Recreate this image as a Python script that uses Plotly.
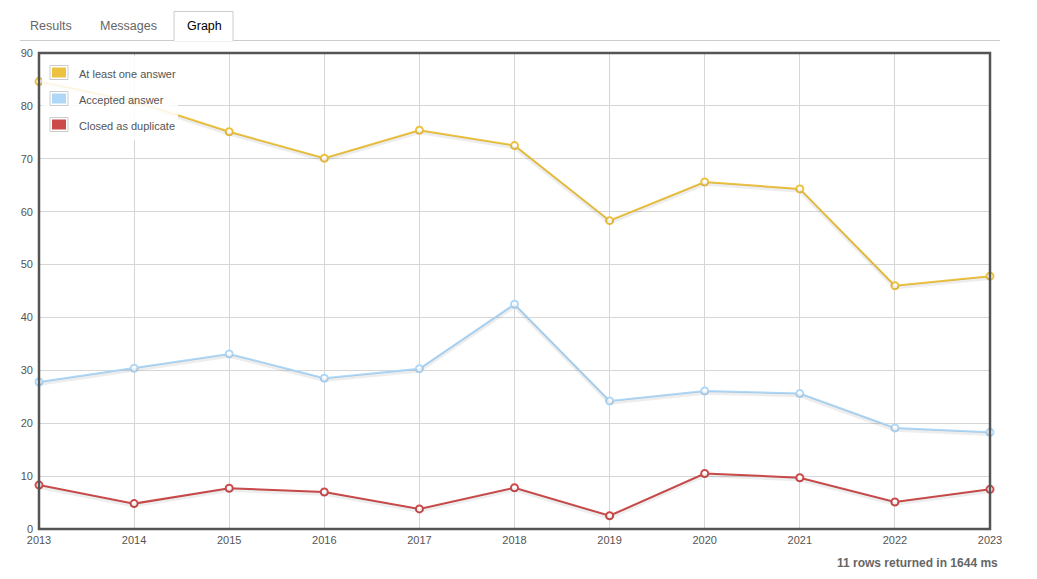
import plotly.graph_objects as go

years = [2013, 2014, 2015, 2016, 2017, 2018, 2019, 2020, 2021, 2022, 2023]
at_least_one = [84.6, 80.9, 75.1, 70.1, 75.4, 72.5, 58.3, 65.6, 64.3, 46.0, 47.8]
accepted = [27.8, 30.4, 33.1, 28.5, 30.3, 42.5, 24.2, 26.1, 25.6, 19.1, 18.3]
closed_dup = [8.3, 4.8, 7.7, 7.0, 3.8, 7.8, 2.5, 10.5, 9.7, 5.1, 7.5]

series_names = ["At least one answer", "Accepted answer", "Closed as duplicate"]
series_values = [at_least_one, accepted, closed_dup]
colors = ["#edc240", "#afd8f8", "#cb4b4b"]

y_ticks = list(range(0, 91, 10))
tabs = ["Results", "Messages", "Graph"]
footer = "11 rows returned in 1644 ms"

W, H = 1037, 579
L, R, T, B = 39, 990, 53, 529
pw, ph = R - L, B - T

def px(x):
    return (x - L) / pw

def py(y):
    return (B - y) / ph

fig = go.Figure()

# shadows on an overlaid axis, shifted down ~2px
shift = 90 / ph * 2.0
for name, vals in zip(series_names, series_values):
    fig.add_trace(go.Scatter(x=years, y=vals, mode="lines", yaxis="y2",
                             line=dict(color="rgba(0,0,0,0.07)", width=3.5),
                             hoverinfo="skip", showlegend=False))

for name, vals, c in zip(series_names, series_values, colors):
    fig.add_trace(go.Scatter(x=years, y=vals, mode="lines+markers", name=name,
                             line=dict(color=c, width=2),
                             marker=dict(size=7, color="white", line=dict(color=c, width=2)),
                             showlegend=False, cliponaxis=False))

shapes = []
annotations = []

# legend (drawn manually, flot style)
shapes.append(dict(type="rect", xref="paper", yref="paper", x0=px(42), x1=px(178),
                   y0=py(140), y1=py(56), fillcolor="rgba(255,255,255,0.85)",
                   line=dict(width=0), layer="above"))
for i, (name, c) in enumerate(zip(series_names, colors)):
    cy = 72.5 + i * 26
    shapes.append(dict(type="rect", xref="paper", yref="paper", x0=px(50), x1=px(68),
                       y0=py(cy + 7), y1=py(cy - 7), fillcolor="white",
                       line=dict(color="#cccccc", width=1), layer="above"))
    shapes.append(dict(type="rect", xref="paper", yref="paper", x0=px(52), x1=px(66),
                       y0=py(cy + 5), y1=py(cy - 5), fillcolor=c,
                       line=dict(width=0), layer="above"))
    annotations.append(dict(text=name, xref="paper", yref="paper", x=px(77), y=py(cy + 1.5),
                            xanchor="left", yanchor="middle", showarrow=False,
                            font=dict(family="Liberation Sans, Arial", size=11, color="#545454")))

# plot border
shapes.append(dict(type="rect", xref="paper", yref="paper", x0=0, x1=1, y0=0, y1=1,
                   line=dict(color="#545454", width=2.5), layer="above"))

# tabs
shapes.append(dict(type="line", xref="paper", yref="paper", x0=px(20), x1=px(1000),
                   y0=py(40.5), y1=py(40.5), line=dict(color="#cccccc", width=1)))
shapes.append(dict(type="rect", xref="paper", yref="paper", x0=px(174), x1=px(233),
                   y0=py(41), y1=py(11.5), fillcolor="white",
                   line=dict(color="#cccccc", width=1)))
shapes.append(dict(type="line", xref="paper", yref="paper", x0=px(174.5), x1=px(232.5),
                   y0=py(40.5), y1=py(40.5), line=dict(color="white", width=2)))
tab_x = [51, 128, 204]
tab_colors = ["#666666", "#666666", "#000000"]
for t, xc, tc in zip(tabs, tab_x, tab_colors):
    annotations.append(dict(text=t, xref="paper", yref="paper", x=px(xc), y=py(26),
                            xanchor="center", yanchor="middle", showarrow=False,
                            font=dict(family="Liberation Sans, Arial", size=12.5, color=tc)))

annotations.append(dict(text=f"<b>{footer}</b>", xref="paper", yref="paper", x=px(1000), y=py(563),
                        xanchor="right", yanchor="middle", showarrow=False,
                        font=dict(family="Liberation Sans, Arial", size=12, color="#666666")))

axis_font = dict(family="Liberation Sans, Arial", size=11, color="#545454")
fig.update_layout(
    width=W, height=H,
    margin=dict(l=L, r=W - R, t=T, b=H - B),
    paper_bgcolor="white", plot_bgcolor="white",
    xaxis=dict(range=[2013, 2023], tickvals=years, ticktext=[str(y) for y in years],
               showgrid=True, gridcolor="#d6d6d6", gridwidth=1, zeroline=False,
               tickfont=axis_font, ticks="", ticklabelstandoff=3, showline=False),
    yaxis=dict(range=[0, 90], tickvals=y_ticks, showgrid=True, gridcolor="#d6d6d6",
               zeroline=False, tickfont=axis_font, ticks="", ticklabelstandoff=5, showline=False),
    yaxis2=dict(range=[shift, 90 + shift], overlaying="y", visible=False),
    shapes=shapes, annotations=annotations,
    showlegend=False,
)

fig.write_html("out.html")
